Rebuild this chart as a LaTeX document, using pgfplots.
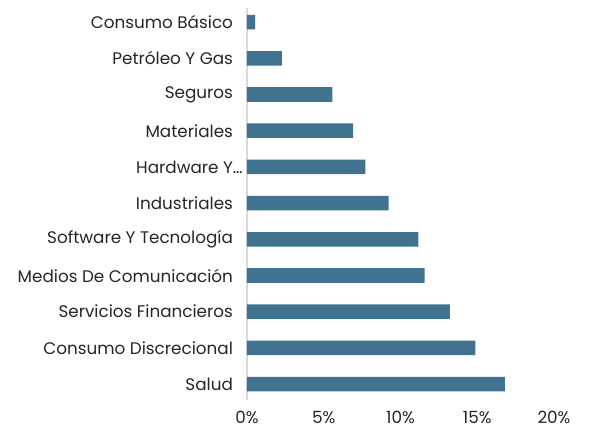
\documentclass[border=0pt]{standalone}
\usepackage{pgfplots}
\pgfplotsset{compat=1.18}
\usepackage{fontspec}
\setmainfont{Poppins}
\definecolor{barblue}{RGB}{65,114,143}
\definecolor{axgray}{RGB}{217,217,217}
\definecolor{txt}{RGB}{38,38,38}
\begin{document}
\begin{tikzpicture}[x=0.75pt,y=0.75pt]
\begin{axis}[
  name=ax,
  scale only axis,
  width=230.25pt, height=294pt,
  xbar, bar width=10.9pt,
  xmin=0, xmax=20,
  ymin=-0.44, ymax=10.39,
  xtick={0,5,10,15,20},
  xticklabels={0\%,5\%,10\%,15\%,20\%},
  ytick={0,...,10},
  yticklabels={Salud,Consumo Discrecional,Servicios Financieros,Medios De Comunicación,Software Y Tecnología,Industriales,Hardware Y\rlap{…},Materiales,Seguros,Petróleo Y Gas,Consumo Básico},
  axis line style={draw=none},
  major tick length=0pt,
  tick label style={font=\fontsize{12.6}{14}\selectfont, text=txt},
  yticklabel style={xshift=-7pt},
  xticklabel style={yshift=-5pt},
  /pgf/number format/assume math mode=true,
  clip=false,
]
\draw[axgray, line width=0.9pt] (axis cs:0,-0.44) -- (axis cs:0,10.39);
\addplot[fill=barblue, draw=none] coordinates {
(16.80,0) (14.88,1) (13.22,2) (11.57,3) (11.16,4) (9.23,5) (7.71,6) (6.91,7) (5.57,8) (2.27,9) (0.53,10)};
\end{axis}
\path ([shift={(-247,-35)}]ax.south west) rectangle ([shift={(366,400)}]ax.south west);
\end{tikzpicture}
\end{document}
